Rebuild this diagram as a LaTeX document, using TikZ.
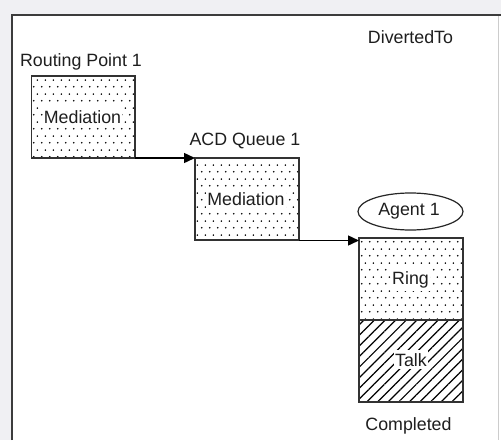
\documentclass[tikz,border=0pt]{standalone}
\usepackage{fontspec}
\setmainfont{Liberation Sans}
\usetikzlibrary{patterns.meta,arrows.meta,shapes.geometric}
\pgfdeclarepattern{
  name=sdots,
  type=uncolored,
  bottom left={\pgfpoint{0pt}{0pt}},
  top right={\pgfpoint{8pt}{14pt}},
  tile size={\pgfpoint{8pt}{14pt}},
  code={
    \pgfpathcircle{\pgfpoint{2pt}{3.5pt}}{0.95pt}
    \pgfpathcircle{\pgfpoint{6pt}{10.5pt}}{0.95pt}
    \pgfusepath{fill}
  }
}
\definecolor{bggray}{RGB}{240,240,243}
\definecolor{framegray}{RGB}{60,60,60}
\definecolor{boxline}{RGB}{50,50,50}
\definecolor{txt}{RGB}{30,30,30}
\begin{document}
\begin{tikzpicture}[x=1pt,y=-1pt,
  lbl/.style={anchor=base,inner sep=0pt,text=txt,font=\fontsize{17.8}{20}\selectfont},
  boxlbl/.style={lbl,fill=white,inner xsep=1pt,inner ysep=3pt},
  dotbox/.style={draw=boxline,line width=1.8pt,pattern=sdots,pattern color=black,minimum width=104pt,minimum height=82pt,inner sep=0pt,outer sep=0pt},
  hatchbox/.style={draw=boxline,line width=1.8pt,pattern={Lines[angle=45,distance=7.5pt,line width=1.2pt]},pattern color=black,minimum width=104pt,minimum height=82pt,inner sep=0pt,outer sep=0pt},
  flow/.style={line width=1.4pt,-{Triangle[length=11pt,width=10pt]}}]
\useasboundingbox (0,0) rectangle (501,440);
\fill[bggray] (0,0) rectangle (501,440);
\fill[white] (11,14) rectangle (501,440);
\draw[black!20,line width=1pt] (498.5,15) -- (498.5,440);
\draw[framegray,line width=2pt] (11.5,440) -- (11.5,14.5) -- (501,14.5);
% boxes
\node[dotbox,minimum width=103.5pt] (box1) at (83.25,117) {};
\node[dotbox] (box2) at (247,199) {};
\node[dotbox] (ring) at (411,279) {};
\node[hatchbox] (talk) at (411,361) {};
\node[draw=black!85,line width=1.2pt,ellipse,minimum width=105pt,minimum height=37pt,inner sep=0pt] (agent) at (410.5,211.5) {};
% labels
\node[lbl] (diverted) at (410.5,43) {DivertedTo};
\node[lbl] (rp) at (81,66) {Routing Point 1};
\node[lbl] (acd) at (245,145) {ACD Queue 1};
\node[boxlbl] (med1) at (82.5,123.3) {Mediation};
\node[boxlbl] (med2) at (246,205) {Mediation};
\node[lbl] (agentlbl) at (409,215) {Agent 1};
\node[boxlbl] (ringlbl) at (410.5,284) {Ring};
\node[boxlbl] (talklbl) at (411,366) {Talk};
\node[lbl] (completed) at (408.5,430) {Completed};
% connectors
\draw[flow] (box1.south east) -- (box1.south east -| box2.west);
\coordinate (a2s) at ([yshift=-0.5pt]box2.south east);
\draw[flow] (a2s) -- (a2s -| ring.west);
\end{tikzpicture}
\end{document}
